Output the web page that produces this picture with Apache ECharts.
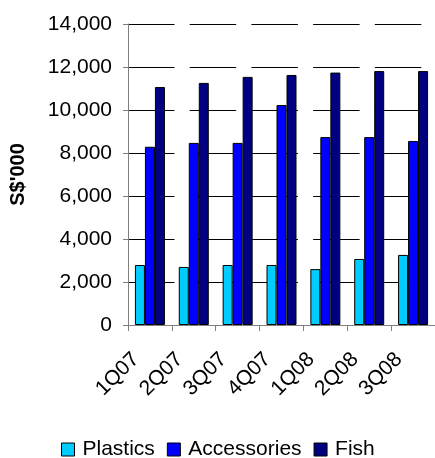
<!DOCTYPE html>
<html>
<head>
<meta charset="utf-8">
<script src="https://cdn.jsdelivr.net/npm/echarts@6/dist/echarts.min.js"></script>
<style>
  html, body { margin: 0; padding: 0; background: #fff; }
  #chart { width: 435px; height: 458px; }
</style>
</head>
<body>
<div id="chart"></div>
<script>
// Quarterly sales by segment, S$'000
const quarters = ['1Q07', '2Q07', '3Q07', '4Q07', '1Q08', '2Q08', '3Q08'];
const plastics = [2790, 2700, 2790, 2790, 2600, 3070, 3260];
const accessories = [8290, 8470, 8470, 10230, 8740, 8740, 8560];
const fish = [11070, 11260, 11540, 11630, 11740, 11810, 11810];
const yTicks = { min: 0, max: 14000, step: 2000 };

const FONT = '"Liberation Sans", Arial, sans-serif';

function barSeries(name, data, color) {
  return {
    name: name,
    type: 'bar',
    data: data,
    barWidth: 10,
    barGap: '0%',
    itemStyle: { color: color, borderColor: '#000', borderWidth: 1 }
  };
}

const chart = echarts.init(document.getElementById('chart'), null, { renderer: 'canvas' });
chart.setOption({
  animation: false,
  backgroundColor: '#fff',
  grid: { left: 128, top: 24, width: 313, height: 301, containLabel: false },
  legend: {
    left: 61,
    top: 439,
    padding: 0,
    itemWidth: 13,
    itemHeight: 13,
    itemGap: 12,
    icon: 'rect',
    itemStyle: { borderColor: '#000', borderWidth: 1 },
    formatter: name => name === 'Accessories' ? '{wide|' + name + '}' : name,
    textStyle: {
      fontFamily: FONT, fontSize: 21, color: '#000', padding: [0, 0, 0, 3],
      rich: { wide: { fontFamily: FONT, fontSize: 21, color: '#000', padding: [0, 11, 0, 0] } }
    },
    data: ['Plastics', 'Accessories', 'Fish']
  },
  xAxis: {
    type: 'category',
    data: quarters,
    axisLine: { lineStyle: { color: '#808080', width: 1 } },
    axisTick: { show: true, length: 6, lineStyle: { color: '#808080' } },
    axisLabel: {
      rotate: 45,
      fontFamily: FONT,
      fontSize: 21,
      color: '#000',
      margin: 17,
      padding: [0, 20, 0, 0]
    }
  },
  yAxis: {
    type: 'value',
    min: yTicks.min,
    max: yTicks.max,
    interval: yTicks.step,
    name: "S$'000",
    nameLocation: 'middle',
    nameGap: 100,
    nameTextStyle: { fontFamily: FONT, fontSize: 20, fontWeight: 'bold', color: '#000' },
    axisLine: { show: true, lineStyle: { color: '#808080', width: 1 } },
    axisTick: { show: true, length: 5, lineStyle: { color: '#808080' } },
    axisLabel: {
      fontFamily: FONT,
      fontSize: 21,
      color: '#000',
      margin: 16,
      formatter: v => v.toLocaleString('en-US')
    },
    splitLine: {
      show: true,
      lineStyle: { color: '#000', width: 1, type: [46.5, 15.2] }
    }
  },
  series: [
    barSeries('Plastics', plastics, '#00CCFF'),
    barSeries('Accessories', accessories, '#0000FF'),
    barSeries('Fish', fish, '#000080')
  ]
});
</script>
</body>
</html>
